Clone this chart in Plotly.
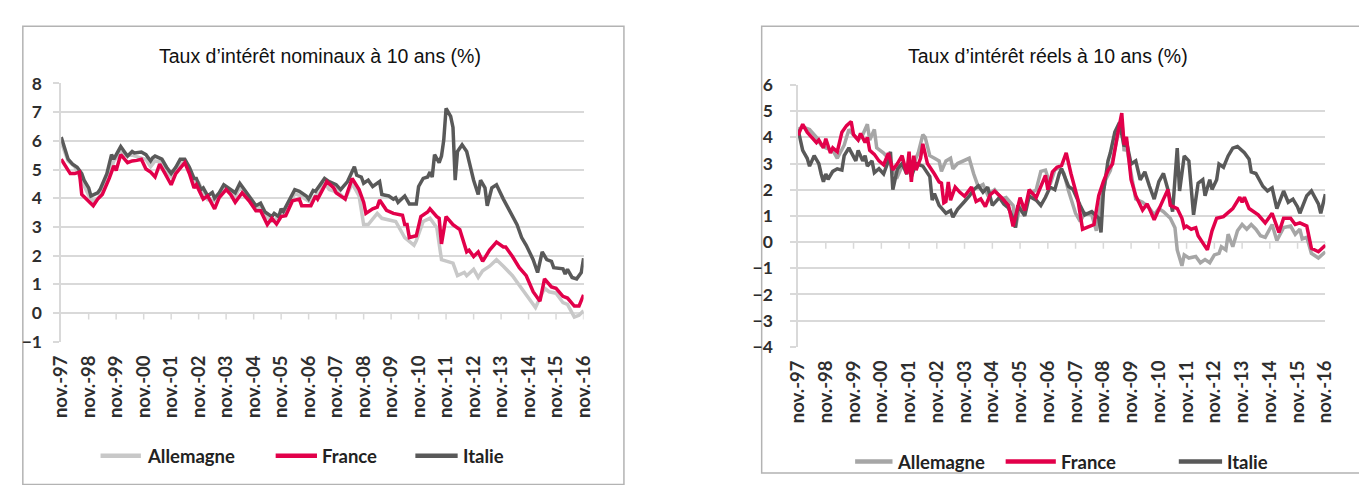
import pandas as pd
import plotly.graph_objects as go

W, H = 1359, 485
START = pd.Timestamp("1997-11-01")

# ---------------- data (months since nov-97, values in %) ----------------
nom_ita_m = [0,3,5,7,9,10,12,13,16,17,20,22,23,26,28,29,31,32,35,37,39,40,41,44,46,48,50,52,54,56,58,59,61,62,64,66,67,69,71,74,76,78,80,83,85,87,89,92,93,95,96,97,100,102,104,107,108,110,111,115,117,119,120,122,125,128,129,131,132,134,136,139,140,143,145,146,147,150,152,155,156,158,160,161,162,163,165,166,167,168,170,171,172,173,175,177,179,180,182,183,185,186,188,190,193,196,199,201,203,206,208,210,212,214,215,219,220,221,223,225,227,228]
nom_ita_v = [6.13,5.36,5.19,5.08,4.86,4.63,4.36,4.08,4.19,4.30,4.86,5.52,5.36,5.80,5.58,5.47,5.63,5.58,5.61,5.52,5.30,5.41,5.47,5.36,5.08,4.86,5.08,5.36,5.36,5.08,4.69,4.69,4.30,4.36,4.08,4.20,4.00,4.19,4.47,4.30,4.19,4.52,4.30,3.97,3.74,3.83,3.52,3.36,3.47,3.36,3.63,3.54,3.97,4.30,4.24,4.08,3.97,4.27,4.24,4.69,4.58,4.52,4.47,4.30,4.58,5.10,4.80,4.74,4.52,4.63,4.41,4.58,4.13,4.08,3.97,4.02,3.86,4.08,3.80,3.80,4.41,4.69,4.74,4.91,4.74,5.52,5.24,5.47,6.02,7.13,6.85,6.47,4.63,5.63,5.86,5.63,4.97,4.63,4.13,4.63,4.36,3.74,4.36,4.47,3.97,3.52,3.08,2.63,2.36,1.86,1.41,2.13,1.86,1.80,1.58,1.54,1.36,1.52,1.24,1.19,1.41,1.91]

nom_fra_m = [0,2,4,6,8,9,11,14,16,18,21,23,24,26,29,31,33,35,37,39,41,43,45,48,50,54,56,58,59,62,64,67,69,72,74,76,79,82,85,87,90,92,94,96,98,101,104,105,109,111,112,116,119,120,124,127,130,132,133,136,138,139,142,145,149,150,151,152,155,157,160,161,164,165,166,168,171,174,177,178,180,182,184,187,190,193,194,197,200,203,206,209,211,214,216,219,221,224,226,228]
nom_fra_v = [5.36,5.13,4.86,4.86,4.91,4.13,3.97,3.74,3.97,4.13,4.69,5.13,4.97,5.52,5.24,5.30,5.32,5.36,5.02,4.91,4.74,5.19,4.91,4.47,4.86,5.24,4.86,4.36,4.47,3.97,4.08,3.63,4.02,4.30,4.13,3.86,4.19,3.91,3.56,3.56,3.08,3.30,3.10,3.36,3.39,3.91,3.97,3.74,3.74,4.08,3.97,4.58,4.36,4.19,3.97,4.69,4.30,3.86,3.47,3.63,3.69,3.94,3.58,3.47,3.41,3.08,3.08,2.63,2.69,3.36,3.52,3.63,3.36,3.30,2.41,3.36,3.08,2.91,2.13,2.19,1.97,2.13,1.80,2.19,2.47,2.30,2.30,1.97,1.58,1.30,0.74,0.41,1.19,0.91,0.86,0.58,0.52,0.24,0.24,0.63]

nom_all_m = [0,3,6,9,12,14,16,18,21,23,26,28,31,35,37,39,41,44,46,48,50,52,54,56,58,60,62,64,67,69,71,74,76,78,80,83,85,87,89,92,94,96,98,100,102,104,107,109,111,113,115,117,119,120,124,127,130,132,134,138,140,143,146,150,154,155,158,161,164,166,169,171,173,176,177,180,182,184,187,190,193,197,200,204,207,211,213,216,219,221,224,226,228]
nom_all_v = [5.95,5.30,5.10,4.60,4.10,3.90,4.00,4.20,4.80,5.30,5.60,5.50,5.50,5.40,5.35,5.10,5.30,5.25,4.95,4.75,4.95,5.25,5.25,4.95,4.55,4.55,4.20,3.95,3.90,4.10,4.35,4.20,4.05,4.40,4.20,3.85,3.60,3.70,3.40,3.20,3.30,3.50,3.45,3.85,4.15,4.10,3.95,3.85,4.10,4.20,4.55,4.30,4.25,4.30,3.97,4.52,4.08,3.08,3.08,3.47,3.30,3.24,3.19,2.63,2.36,2.52,3.19,3.30,2.97,1.86,1.80,1.74,1.30,1.41,1.30,1.52,1.24,1.47,1.63,1.86,1.63,1.30,0.97,0.53,0.19,0.86,0.74,0.69,0.36,0.30,-0.14,-0.08,0.08]

real_fra_m = [0,2,4,8,9,11,12,14,15,17,19,21,23,24,26,27,29,30,31,33,35,37,39,41,43,45,47,48,49,50,51,53,54,56,59,61,62,63,64,65,66,68,70,72,75,77,79,81,83,85,88,91,93,96,98,100,103,105,107,108,110,112,114,115,116,118,121,123,128,130,132,134,136,138,140,141,142,144,146,149,151,154,156,158,160,161,164,166,167,168,170,172,173,177,179,181,184,188,191,192,193,195,199,202,205,208,210,213,215,217,220,222,225,228]
real_fra_v = [4.08,4.50,4.20,3.80,3.90,3.60,3.95,3.40,3.60,3.45,4.20,4.45,4.60,4.10,3.90,4.15,3.80,4.00,3.50,3.35,3.10,2.95,3.40,2.75,3.00,3.30,2.60,3.45,2.30,3.30,2.75,3.20,3.75,3.00,2.60,2.30,2.25,1.50,1.55,2.30,1.60,2.10,1.90,1.75,2.10,1.55,1.65,1.35,1.80,1.95,1.70,1.40,0.60,1.70,1.20,2.00,1.70,2.10,2.55,2.00,2.68,2.86,2.92,3.17,3.41,2.62,1.64,0.49,0.67,1.77,2.31,2.74,2.98,4.02,4.93,3.71,4.02,2.38,1.77,1.22,1.46,0.85,1.28,1.64,2.01,1.40,1.28,0.91,0.55,0.61,0.49,0.55,0.24,-0.30,0.43,0.91,0.97,1.28,1.71,1.52,1.71,1.28,1.04,0.73,1.10,0.37,0.91,0.91,0.67,0.73,0.61,-0.24,-0.37,-0.12]

real_ita_m = [0,2,4,5,7,9,10,11,12,13,15,17,19,20,22,24,25,26,28,29,30,32,33,35,37,39,40,41,43,45,47,48,49,51,54,57,58,59,61,64,66,67,69,72,74,76,78,80,82,84,87,89,91,93,94,95,98,100,103,105,107,109,111,113,114,117,119,122,124,127,130,131,132,134,135,137,139,141,142,144,146,148,150,152,154,156,158,160,162,164,165,167,169,171,173,175,176,178,179,181,182,184,186,188,190,193,195,196,198,201,203,205,207,210,212,214,216,217,220,222,225,226,228]
real_ita_v = [4.30,3.50,3.20,2.90,3.30,3.00,2.60,2.30,2.60,2.40,2.70,2.80,2.75,3.30,3.60,3.30,3.10,3.50,3.10,3.30,2.90,3.10,2.65,2.80,2.60,3.10,3.45,2.00,2.80,3.00,2.60,3.00,2.50,3.00,2.90,2.50,1.60,1.85,1.40,1.10,1.20,0.95,1.25,1.55,1.75,2.00,2.15,1.90,2.10,1.40,1.70,1.45,1.30,0.90,0.55,1.40,1.00,1.75,1.60,1.40,1.71,2.10,2.00,2.62,2.80,2.13,2.00,1.40,1.04,1.16,0.91,0.37,1.89,3.10,3.41,4.20,4.57,3.65,3.84,2.98,3.10,2.38,2.68,2.13,1.64,2.31,2.62,2.00,1.16,3.59,1.95,3.29,3.10,1.04,2.25,2.38,1.77,2.38,2.01,2.38,2.98,2.86,3.29,3.59,3.65,3.41,3.17,2.68,2.62,2.13,1.95,2.07,1.28,1.95,1.52,1.64,1.34,1.10,1.77,1.95,1.46,1.10,1.83]

real_all_m = [0,2,5,8,10,12,15,17,20,22,24,26,28,30,31,33,34,37,39,41,43,45,47,50,52,54,55,57,59,61,62,64,66,67,69,72,74,76,78,80,82,85,88,90,93,94,96,98,100,103,105,107,109,111,113,115,117,120,122,124,127,129,131,133,135,138,140,141,142,144,146,149,152,154,156,158,161,163,164,166,167,169,172,174,176,178,180,182,183,185,186,188,190,192,194,196,198,200,202,205,207,210,213,215,217,218,220,222,225,228]
real_all_v = [4.30,4.40,4.30,4.00,3.70,3.60,3.50,3.20,3.70,4.30,4.10,3.90,4.10,4.50,3.90,4.30,3.60,3.40,3.20,2.70,2.50,2.90,2.80,3.00,3.40,4.10,4.00,3.30,3.20,3.10,2.70,3.10,3.20,2.80,3.00,3.10,3.20,2.60,2.10,2.20,1.80,2.00,1.65,1.70,1.40,0.55,1.40,1.20,1.80,2.00,2.70,2.75,2.20,2.75,2.86,2.62,1.95,1.10,0.79,1.10,1.04,0.43,1.52,2.38,2.74,3.96,4.69,3.47,3.71,2.62,1.64,1.52,1.28,1.04,1.28,1.16,0.91,0.55,-0.30,-0.91,-0.49,-0.61,-0.55,-0.79,-0.67,-0.79,-0.49,-0.43,-0.18,-0.30,0.30,-0.18,0.43,0.67,0.49,0.67,0.49,0.24,0.18,0.67,0.06,0.55,0.61,0.30,0.49,0.12,0.18,-0.43,-0.61,-0.37]

tick_years = list(range(1997, 2017))
tick_labels = ["nov.-%02d" % (y % 100) for y in tick_years]

series_names = ["Allemagne", "France", "Italie"]
titles = ["Taux d\u2019int\u00e9r\u00eat nominaux \u00e0 10 ans (%)",
          "Taux d\u2019int\u00e9r\u00eat r\u00e9els \u00e0 10 ans (%)"]

# ---------------- styling ----------------
C_ALL_L, C_ALL_R = "#c8c8c8", "#a6a6a6"
C_FRA = "#e2004a"
C_ITA = "#595959"
GRID = "#d9d9d9"
TXT = "#2e2e2e"
XLBL_FONT = dict(family="Lato", size=18.5, color=TXT, weight="bold")
YLBL_FONT = dict(family="Lato", size=17.5, color=TXT, weight="bold")


def px(x):
    return x / W


def py(y):
    return 1 - y / H


def to_dates(months):
    return [START + pd.DateOffset(months=int(m)) for m in months]


tick_dates = [pd.Timestamp(year=y, month=11, day=1) for y in tick_years]

fig = go.Figure()

# left chart: nominal
for m, v, c, nm in [(nom_all_m, nom_all_v, C_ALL_L, "Allemagne"),
                    (nom_ita_m, nom_ita_v, C_ITA, "Italie"),
                    (nom_fra_m, nom_fra_v, C_FRA, "France")]:
    fig.add_trace(go.Scatter(x=to_dates(m), y=v, mode="lines", name=nm,
                             line=dict(color=c, width=3.5), xaxis="x", yaxis="y",
                             showlegend=False))
# right chart: real
for m, v, c, nm in [(real_all_m, real_all_v, C_ALL_R, "Allemagne"),
                    (real_ita_m, real_ita_v, C_ITA, "Italie"),
                    (real_fra_m, real_fra_v, C_FRA, "France")]:
    fig.add_trace(go.Scatter(x=to_dates(m), y=v, mode="lines", name=nm,
                             line=dict(color=c, width=3.5), xaxis="x2", yaxis="y2",
                             showlegend=False))

xcommon = dict(type="date", range=[tick_dates[0], tick_dates[-1]],
               tickmode="array", tickvals=tick_dates, ticktext=tick_labels,
               tickangle=-90, showgrid=False, showline=False, zeroline=False,
               ticks="", tickfont=XLBL_FONT, ticklabelstandoff=9)
ycommon = dict(dtick=1, tickmode="linear", showgrid=True, gridcolor=GRID, gridwidth=1.5,
               showline=True, linecolor=GRID, linewidth=1.5, ticks="outside",
               ticklen=6, tickcolor=GRID, tickwidth=1.5, zeroline=False,
               tickfont=YLBL_FONT)

fig.update_layout(
    width=W, height=H, margin=dict(l=0, r=0, t=0, b=0),
    paper_bgcolor="white", plot_bgcolor="white",
    xaxis=dict(domain=[px(50), px(581)], anchor="y", **xcommon),
    yaxis=dict(domain=[py(345.7), py(75.7)], anchor="x", range=[-1.002, 8.002],
               tick0=-1, ticklabelstandoff=8, **ycommon),
    xaxis2=dict(domain=[px(799), px(1335)], anchor="y2", **xcommon),
    yaxis2=dict(domain=[py(351), py(77.3)], anchor="x2", range=[-4.002, 6.002],
                tick0=-4, ticklabelstandoff=14, **ycommon),
)

shapes = []
# panel borders
shapes.append(dict(type="rect", xref="paper", yref="paper", x0=px(11), x1=px(622),
                   y0=py(495), y1=py(16), line=dict(color="#b3b3b3", width=1.5), layer="below"))
shapes.append(dict(type="rect", xref="paper", yref="paper", x0=px(762), x1=px(1370),
                   y0=py(483), y1=py(16), line=dict(color="#b3b3b3", width=1.5), layer="below"))
# small category tick marks hanging from the 0 line
for d in tick_dates[1:]:
    shapes.append(dict(type="line", xref="x", yref="y", x0=d, x1=d, y0=0, y1=-0.23,
                       line=dict(color=GRID, width=1.5), layer="below"))
    shapes.append(dict(type="line", xref="x2", yref="y2", x0=d, x1=d, y0=0, y1=-0.26,
                       line=dict(color=GRID, width=1.5), layer="below"))

annotations = []
# titles
for t, cx in zip(titles, [313.5, 1053.5]):
    annotations.append(dict(text=t, xref="paper", yref="paper", x=px(cx), y=py(47),
                            xanchor="center", yanchor="middle", showarrow=False,
                            font=dict(family="Liberation Sans, Arial", size=19.5, color="#111111")))

# legends (manual, to match the original spacing)
legend_specs = [
    (465, [(90, 131, 135), (268, 310, 313), (410, 453, 456)], [C_ALL_L, C_FRA, C_ITA]),
    (471, [(857, 895, 898), (1010, 1061, 1064), (1186, 1230, 1233)], [C_ALL_R, C_FRA, C_ITA]),
]
for ly, items, cols in legend_specs:
    for (x0, x1, tx), col, nm in zip(items, cols, series_names):
        shapes.append(dict(type="line", xref="paper", yref="paper", x0=px(x0), x1=px(x1),
                           y0=py(ly), y1=py(ly), line=dict(color=col, width=4.5)))
        annotations.append(dict(text=nm, xref="paper", yref="paper", x=px(tx), y=py(ly),
                                xanchor="left", yanchor="middle", showarrow=False,
                                font=dict(family="Lato", size=18.5, color="#222222", weight="bold")))

fig.update_layout(shapes=shapes, annotations=annotations)
fig.write_html("out.html")
